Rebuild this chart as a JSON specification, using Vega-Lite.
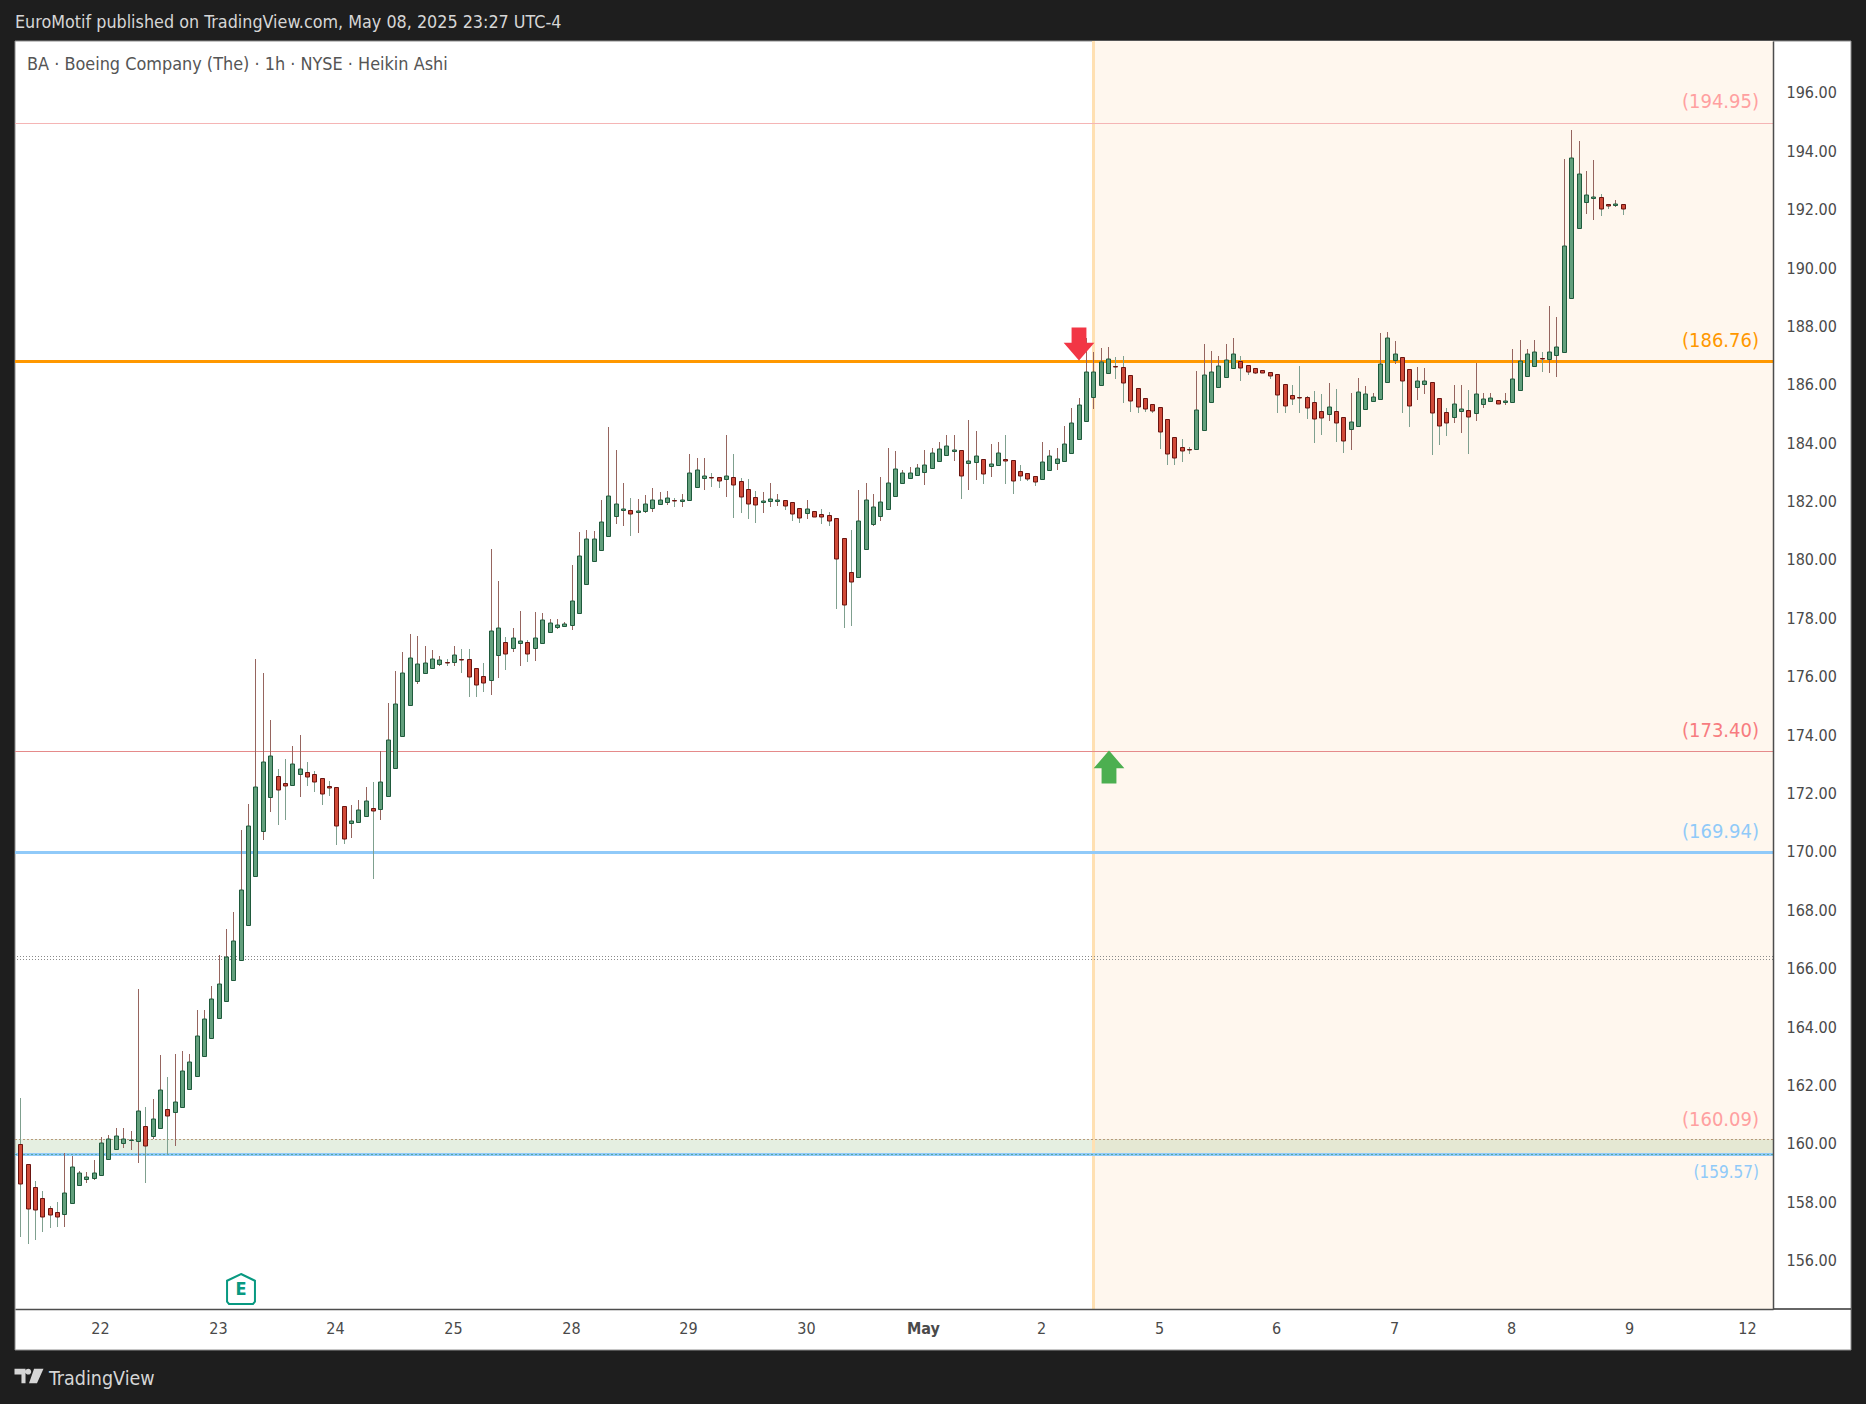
{
  "$schema": "https://vega.github.io/schema/vega-lite/v6.json",
  "width": 1758,
  "height": 1268,
  "autosize": {"type": "none"},
  "padding": {"left": 15, "top": 41, "right": 93, "bottom": 95},
  "background": "#1e1e1e",
  "view": {"fill": "#ffffff", "stroke": null},
  "title": {
    "text": "EuroMotif published on TradingView.com, May 08, 2025 23:27 UTC-4",
    "anchor": "start",
    "frame": "group",
    "font": "DejaVu Sans Condensed",
    "fontSize": 17.8,
    "fontWeight": "normal",
    "color": "#d6d6d6",
    "offset": 8
  },
  "config": {"text": {"font": "DejaVu Sans Condensed"}},
  "datasets": {
    "candles": [
      {"bar":0,"open":159.93,"high":161.52,"low":156.77,"close":158.56},
      {"bar":1,"open":159.24,"high":159.24,"low":156.53,"close":157.70},
      {"bar":2,"open":158.46,"high":158.67,"low":156.65,"close":157.67},
      {"bar":3,"open":158.08,"high":158.33,"low":156.94,"close":157.43},
      {"bar":4,"open":157.74,"high":157.82,"low":157.07,"close":157.50},
      {"bar":5,"open":157.60,"high":157.95,"low":157.11,"close":157.43},
      {"bar":6,"open":157.53,"high":159.63,"low":157.11,"close":158.25},
      {"bar":7,"open":157.91,"high":159.53,"low":157.91,"close":159.14},
      {"bar":8,"open":158.53,"high":159.02,"low":158.53,"close":158.94},
      {"bar":9,"open":158.73,"high":158.98,"low":158.62,"close":158.80},
      {"bar":10,"open":158.77,"high":159.39,"low":158.69,"close":158.94},
      {"bar":11,"open":158.87,"high":160.17,"low":158.87,"close":159.96},
      {"bar":12,"open":159.42,"high":160.25,"low":159.42,"close":160.10},
      {"bar":13,"open":159.76,"high":160.48,"low":159.76,"close":160.20},
      {"bar":14,"open":159.96,"high":160.48,"low":159.82,"close":160.10},
      {"bar":15,"open":160.06,"high":160.39,"low":159.75,"close":160.08},
      {"bar":16,"open":160.03,"high":165.25,"low":159.30,"close":161.06},
      {"bar":17,"open":160.55,"high":161.21,"low":158.62,"close":159.86},
      {"bar":18,"open":160.20,"high":161.48,"low":160.10,"close":160.79},
      {"bar":19,"open":160.48,"high":162.99,"low":160.48,"close":161.78},
      {"bar":20,"open":161.13,"high":162.24,"low":159.59,"close":160.89},
      {"bar":21,"open":161.03,"high":163.02,"low":159.88,"close":161.37},
      {"bar":22,"open":161.20,"high":163.13,"low":161.20,"close":162.43},
      {"bar":23,"open":161.81,"high":163.02,"low":161.81,"close":162.74},
      {"bar":24,"open":162.26,"high":164.53,"low":162.26,"close":163.63},
      {"bar":25,"open":162.94,"high":164.53,"low":162.94,"close":164.21},
      {"bar":26,"open":163.56,"high":165.35,"low":163.56,"close":164.90},
      {"bar":27,"open":164.25,"high":166.41,"low":164.25,"close":165.41},
      {"bar":28,"open":164.83,"high":167.31,"low":164.83,"close":166.35},
      {"bar":29,"open":165.57,"high":167.89,"low":165.57,"close":166.89},
      {"bar":30,"open":166.24,"high":170.70,"low":166.24,"close":168.63},
      {"bar":31,"open":167.43,"high":171.59,"low":167.43,"close":170.83},
      {"bar":32,"open":169.11,"high":176.56,"low":169.11,"close":172.16},
      {"bar":33,"open":170.66,"high":176.08,"low":170.37,"close":173.02},
      {"bar":34,"open":171.82,"high":174.47,"low":171.33,"close":173.22},
      {"bar":35,"open":172.54,"high":172.79,"low":170.88,"close":172.06},
      {"bar":36,"open":172.30,"high":173.13,"low":171.05,"close":172.20},
      {"bar":37,"open":172.23,"high":173.58,"low":172.23,"close":172.95},
      {"bar":38,"open":172.61,"high":173.96,"low":171.84,"close":172.78},
      {"bar":39,"open":172.68,"high":173.03,"low":172.22,"close":172.50},
      {"bar":40,"open":172.61,"high":172.72,"low":172.00,"close":172.33},
      {"bar":41,"open":172.47,"high":172.47,"low":171.57,"close":171.92},
      {"bar":42,"open":172.20,"high":172.38,"low":171.87,"close":172.13},
      {"bar":43,"open":172.16,"high":172.16,"low":170.20,"close":170.83},
      {"bar":44,"open":171.51,"high":171.51,"low":170.23,"close":170.38},
      {"bar":45,"open":170.93,"high":171.56,"low":170.43,"close":171.00},
      {"bar":46,"open":170.96,"high":171.73,"low":170.96,"close":171.37},
      {"bar":47,"open":171.17,"high":172.17,"low":171.17,"close":171.68},
      {"bar":48,"open":171.44,"high":172.33,"low":169.03,"close":171.34},
      {"bar":49,"open":171.41,"high":173.41,"low":171.04,"close":172.33},
      {"bar":50,"open":171.85,"high":175.05,"low":171.85,"close":173.77},
      {"bar":51,"open":172.81,"high":176.15,"low":172.81,"close":175.01},
      {"bar":52,"open":173.91,"high":176.80,"low":173.91,"close":176.07},
      {"bar":53,"open":174.97,"high":177.42,"low":174.97,"close":176.58},
      {"bar":54,"open":175.79,"high":177.35,"low":175.69,"close":176.38},
      {"bar":55,"open":176.07,"high":177.00,"low":176.03,"close":176.41},
      {"bar":56,"open":176.24,"high":176.87,"low":176.24,"close":176.55},
      {"bar":57,"open":176.38,"high":176.66,"low":176.30,"close":176.51},
      {"bar":58,"open":176.45,"high":176.56,"low":176.30,"close":176.43},
      {"bar":59,"open":176.45,"high":177.00,"low":176.33,"close":176.68},
      {"bar":60,"open":176.55,"high":176.90,"low":176.09,"close":176.51},
      {"bar":61,"open":176.55,"high":176.90,"low":175.27,"close":175.93},
      {"bar":62,"open":176.24,"high":176.24,"low":175.27,"close":175.66},
      {"bar":63,"open":175.97,"high":176.42,"low":175.44,"close":175.73},
      {"bar":64,"open":175.83,"high":180.33,"low":175.34,"close":177.51},
      {"bar":65,"open":176.68,"high":179.23,"low":175.89,"close":177.61},
      {"bar":66,"open":177.13,"high":177.30,"low":176.19,"close":176.72},
      {"bar":67,"open":176.92,"high":177.62,"low":176.78,"close":177.27},
      {"bar":68,"open":177.10,"high":178.20,"low":176.30,"close":177.16},
      {"bar":69,"open":177.13,"high":177.20,"low":176.47,"close":176.72},
      {"bar":70,"open":176.92,"high":178.17,"low":176.50,"close":177.27},
      {"bar":71,"open":177.10,"high":178.14,"low":177.10,"close":177.88},
      {"bar":72,"open":177.47,"high":177.93,"low":177.47,"close":177.78},
      {"bar":73,"open":177.64,"high":177.93,"low":177.58,"close":177.71},
      {"bar":74,"open":177.68,"high":177.83,"low":177.64,"close":177.75},
      {"bar":75,"open":177.71,"high":179.78,"low":177.54,"close":178.54},
      {"bar":76,"open":178.12,"high":180.91,"low":178.12,"close":180.08},
      {"bar":77,"open":179.12,"high":180.98,"low":179.12,"close":180.66},
      {"bar":78,"open":179.91,"high":180.94,"low":179.91,"close":180.66},
      {"bar":79,"open":180.28,"high":182.01,"low":180.28,"close":181.24},
      {"bar":80,"open":180.76,"high":184.51,"low":180.76,"close":182.13},
      {"bar":81,"open":181.45,"high":183.72,"low":181.18,"close":181.86},
      {"bar":82,"open":181.67,"high":182.59,"low":181.13,"close":181.69},
      {"bar":83,"open":181.65,"high":182.07,"low":180.78,"close":181.52},
      {"bar":84,"open":181.58,"high":182.04,"low":180.89,"close":181.62},
      {"bar":85,"open":181.62,"high":182.18,"low":181.57,"close":181.86},
      {"bar":86,"open":181.72,"high":182.42,"low":181.61,"close":182.00},
      {"bar":87,"open":181.86,"high":182.28,"low":181.86,"close":182.00},
      {"bar":88,"open":181.93,"high":182.31,"low":181.85,"close":182.06},
      {"bar":89,"open":182.01,"high":182.07,"low":181.78,"close":181.96},
      {"bar":90,"open":181.98,"high":182.21,"low":181.78,"close":182.01},
      {"bar":91,"open":182.00,"high":183.58,"low":182.00,"close":182.92},
      {"bar":92,"open":182.44,"high":183.45,"low":182.44,"close":183.02},
      {"bar":93,"open":182.75,"high":183.45,"low":182.36,"close":182.82},
      {"bar":94,"open":182.78,"high":182.93,"low":182.46,"close":182.77},
      {"bar":95,"open":182.78,"high":182.78,"low":182.43,"close":182.64},
      {"bar":96,"open":182.71,"high":184.23,"low":182.12,"close":182.82},
      {"bar":97,"open":182.78,"high":183.58,"low":181.40,"close":182.51},
      {"bar":98,"open":182.64,"high":182.75,"low":181.57,"close":182.10},
      {"bar":99,"open":182.37,"high":182.71,"low":181.37,"close":181.86},
      {"bar":100,"open":182.10,"high":182.31,"low":181.23,"close":181.82},
      {"bar":101,"open":181.95,"high":182.28,"low":181.57,"close":181.96},
      {"bar":102,"open":181.96,"high":182.59,"low":181.78,"close":182.03},
      {"bar":103,"open":181.98,"high":182.21,"low":181.81,"close":182.01},
      {"bar":104,"open":181.99,"high":181.99,"low":181.66,"close":181.81},
      {"bar":105,"open":181.92,"high":181.92,"low":181.30,"close":181.51},
      {"bar":106,"open":181.72,"high":181.72,"low":181.22,"close":181.38},
      {"bar":107,"open":181.55,"high":182.00,"low":181.36,"close":181.68},
      {"bar":108,"open":181.62,"high":181.62,"low":181.41,"close":181.41},
      {"bar":109,"open":181.51,"high":181.70,"low":181.18,"close":181.41},
      {"bar":110,"open":181.48,"high":181.59,"low":181.11,"close":181.27},
      {"bar":111,"open":181.38,"high":181.38,"low":178.27,"close":179.97},
      {"bar":112,"open":180.69,"high":180.69,"low":177.62,"close":178.40},
      {"bar":113,"open":179.53,"high":180.98,"low":177.69,"close":179.18},
      {"bar":114,"open":179.35,"high":182.35,"low":179.35,"close":181.27},
      {"bar":115,"open":180.31,"high":182.59,"low":180.31,"close":181.99},
      {"bar":116,"open":181.17,"high":182.21,"low":181.11,"close":181.75},
      {"bar":117,"open":181.44,"high":182.79,"low":181.30,"close":181.92},
      {"bar":118,"open":181.68,"high":183.79,"low":181.68,"close":182.57},
      {"bar":119,"open":182.13,"high":183.68,"low":182.13,"close":183.05},
      {"bar":120,"open":182.57,"high":183.03,"low":182.57,"close":182.92},
      {"bar":121,"open":182.75,"high":183.13,"low":182.75,"close":182.92},
      {"bar":122,"open":182.85,"high":183.24,"low":182.85,"close":183.09},
      {"bar":123,"open":182.95,"high":183.72,"low":182.53,"close":183.19},
      {"bar":124,"open":183.09,"high":183.79,"low":183.09,"close":183.60},
      {"bar":125,"open":183.33,"high":183.99,"low":183.33,"close":183.74},
      {"bar":126,"open":183.53,"high":184.23,"low":183.53,"close":183.84},
      {"bar":127,"open":183.69,"high":184.23,"low":183.35,"close":183.71},
      {"bar":128,"open":183.71,"high":183.71,"low":182.05,"close":182.81},
      {"bar":129,"open":183.26,"high":184.74,"low":182.36,"close":183.33},
      {"bar":130,"open":183.29,"high":184.37,"low":182.70,"close":183.50},
      {"bar":131,"open":183.40,"high":183.40,"low":182.56,"close":182.88},
      {"bar":132,"open":183.16,"high":183.92,"low":182.80,"close":183.23},
      {"bar":133,"open":183.19,"high":183.99,"low":183.19,"close":183.60},
      {"bar":134,"open":183.40,"high":184.23,"low":182.56,"close":183.33},
      {"bar":135,"open":183.36,"high":183.36,"low":182.22,"close":182.64},
      {"bar":136,"open":182.99,"high":183.20,"low":182.67,"close":182.81},
      {"bar":137,"open":182.92,"high":182.92,"low":182.67,"close":182.71},
      {"bar":138,"open":182.81,"high":182.81,"low":182.50,"close":182.61},
      {"bar":139,"open":182.71,"high":183.99,"low":182.71,"close":183.29},
      {"bar":140,"open":183.02,"high":183.71,"low":183.02,"close":183.50},
      {"bar":141,"open":183.26,"high":183.79,"low":183.04,"close":183.40},
      {"bar":142,"open":183.33,"high":184.54,"low":183.33,"close":183.91},
      {"bar":143,"open":183.60,"high":185.16,"low":183.60,"close":184.63},
      {"bar":144,"open":184.09,"high":185.49,"low":184.06,"close":185.25},
      {"bar":145,"open":184.70,"high":187.55,"low":184.70,"close":186.39},
      {"bar":146,"open":185.52,"high":187.07,"low":185.12,"close":186.39},
      {"bar":147,"open":185.93,"high":187.21,"low":185.93,"close":186.72},
      {"bar":148,"open":186.34,"high":187.24,"low":186.34,"close":186.82},
      {"bar":149,"open":186.58,"high":186.90,"low":186.15,"close":186.57},
      {"bar":150,"open":186.55,"high":186.94,"low":185.34,"close":186.00},
      {"bar":151,"open":186.27,"high":186.27,"low":185.03,"close":185.38},
      {"bar":152,"open":185.83,"high":185.83,"low":185.00,"close":185.18},
      {"bar":153,"open":185.49,"high":185.49,"low":185.03,"close":185.11},
      {"bar":154,"open":185.31,"high":185.31,"low":185.00,"close":185.04},
      {"bar":155,"open":185.18,"high":185.18,"low":183.76,"close":184.32},
      {"bar":156,"open":184.77,"high":184.77,"low":183.21,"close":183.57},
      {"bar":157,"open":184.15,"high":184.15,"low":183.21,"close":183.43},
      {"bar":158,"open":183.81,"high":184.09,"low":183.32,"close":183.67},
      {"bar":159,"open":183.74,"high":183.81,"low":183.59,"close":183.73},
      {"bar":160,"open":183.74,"high":186.42,"low":183.74,"close":185.08},
      {"bar":161,"open":184.39,"high":187.35,"low":184.39,"close":186.27},
      {"bar":162,"open":185.35,"high":187.11,"low":185.35,"close":186.38},
      {"bar":163,"open":185.86,"high":186.94,"low":185.86,"close":186.58},
      {"bar":164,"open":186.21,"high":187.35,"low":186.21,"close":186.79},
      {"bar":165,"open":186.51,"high":187.55,"low":186.51,"close":186.99},
      {"bar":166,"open":186.75,"high":186.94,"low":186.07,"close":186.51},
      {"bar":167,"open":186.62,"high":186.62,"low":186.27,"close":186.38},
      {"bar":168,"open":186.51,"high":186.51,"low":186.31,"close":186.34},
      {"bar":169,"open":186.45,"high":186.45,"low":186.34,"close":186.34},
      {"bar":170,"open":186.38,"high":186.38,"low":186.16,"close":186.24},
      {"bar":171,"open":186.31,"high":186.31,"low":185.00,"close":185.59},
      {"bar":172,"open":185.97,"high":185.97,"low":185.00,"close":185.21},
      {"bar":173,"open":185.59,"high":185.94,"low":185.27,"close":185.45},
      {"bar":174,"open":185.52,"high":186.59,"low":185.00,"close":185.51},
      {"bar":175,"open":185.52,"high":185.57,"low":184.79,"close":185.14},
      {"bar":176,"open":185.35,"high":185.74,"low":183.97,"close":184.77},
      {"bar":177,"open":185.04,"high":185.63,"low":184.24,"close":184.80},
      {"bar":178,"open":184.94,"high":186.01,"low":184.72,"close":185.18},
      {"bar":179,"open":185.04,"high":185.81,"low":184.00,"close":184.63},
      {"bar":180,"open":184.84,"high":184.84,"low":183.62,"close":184.01},
      {"bar":181,"open":184.42,"high":185.67,"low":183.73,"close":184.66},
      {"bar":182,"open":184.53,"high":186.18,"low":184.53,"close":185.69},
      {"bar":183,"open":185.11,"high":185.91,"low":185.11,"close":185.62},
      {"bar":184,"open":185.38,"high":185.67,"low":185.38,"close":185.52},
      {"bar":185,"open":185.45,"high":187.72,"low":185.45,"close":186.65},
      {"bar":186,"open":186.03,"high":187.76,"low":186.03,"close":187.54},
      {"bar":187,"open":186.79,"high":187.45,"low":186.66,"close":186.99},
      {"bar":188,"open":186.89,"high":186.89,"low":185.00,"close":186.07},
      {"bar":189,"open":186.48,"high":186.48,"low":184.52,"close":185.21},
      {"bar":190,"open":185.86,"high":186.56,"low":185.42,"close":186.07},
      {"bar":191,"open":185.97,"high":186.53,"low":185.65,"close":186.07},
      {"bar":192,"open":186.03,"high":186.03,"low":183.56,"close":184.97},
      {"bar":193,"open":185.49,"high":185.49,"low":183.90,"close":184.53},
      {"bar":194,"open":185.01,"high":185.14,"low":184.21,"close":184.63},
      {"bar":195,"open":184.84,"high":185.94,"low":184.65,"close":185.28},
      {"bar":196,"open":185.04,"high":185.94,"low":184.31,"close":185.11},
      {"bar":197,"open":185.08,"high":185.77,"low":183.59,"close":184.84},
      {"bar":198,"open":184.97,"high":186.70,"low":184.72,"close":185.62},
      {"bar":199,"open":185.28,"high":185.67,"low":185.17,"close":185.45},
      {"bar":200,"open":185.38,"high":185.67,"low":185.38,"close":185.49},
      {"bar":201,"open":185.42,"high":185.42,"low":185.28,"close":185.28},
      {"bar":202,"open":185.35,"high":185.66,"low":185.26,"close":185.38},
      {"bar":203,"open":185.37,"high":187.17,"low":185.37,"close":186.14},
      {"bar":204,"open":185.76,"high":187.48,"low":185.76,"close":186.75},
      {"bar":205,"open":186.24,"high":187.17,"low":186.24,"close":186.99},
      {"bar":206,"open":186.61,"high":187.48,"low":186.61,"close":187.09},
      {"bar":207,"open":186.87,"high":187.09,"low":186.40,"close":186.82},
      {"bar":208,"open":186.85,"high":188.65,"low":186.36,"close":187.09},
      {"bar":209,"open":186.96,"high":188.27,"low":186.23,"close":187.23},
      {"bar":210,"open":187.09,"high":193.68,"low":187.09,"close":190.69},
      {"bar":211,"open":188.91,"high":194.68,"low":188.91,"close":193.71},
      {"bar":212,"open":191.31,"high":194.30,"low":191.31,"close":193.19},
      {"bar":213,"open":192.23,"high":193.27,"low":191.81,"close":192.47},
      {"bar":214,"open":192.34,"high":193.65,"low":191.61,"close":192.40},
      {"bar":215,"open":192.37,"high":192.48,"low":191.74,"close":191.99},
      {"bar":216,"open":192.16,"high":192.16,"low":191.98,"close":192.06},
      {"bar":217,"open":192.12,"high":192.28,"low":192.05,"close":192.16},
      {"bar":218,"open":192.13,"high":192.13,"low":191.78,"close":191.99}
    ]
  },
  "encoding": {
    "x": {
      "field": "bar",
      "type": "quantitative",
      "scale": {"domain": [-0.72, 238.46], "nice": false, "zero": false, "round": true, "padding": 0},
      "axis": {
        "title": null,
        "orient": "bottom",
        "grid": false,
        "ticks": false,
        "zindex": 1,
        "domainColor": "#4d4d4d",
        "domainWidth": 1.5,
        "values": [11, 27, 43, 59, 75, 91, 107, 123, 139, 155, 171, 187, 203, 219, 235],
        "labelExpr": "['22','23','24','25','28','29','30','May','2','5','6','7','8','9','12'][round((datum.value-11)/16)]",
        "labelFont": "DejaVu Sans Condensed",
        "labelFontSize": 16,
        "labelFontWeight": {"expr": "datum.value == 123 ? 'bold' : 'normal'"},
        "labelColor": "#4a4a4a",
        "labelPadding": 11,
        "labelOffset": -1,
        "labelOverlap": false,
        "labelFlush": false,
        "labelBound": false
      }
    },
    "y": {
      "field": "price",
      "type": "quantitative",
      "scale": {"domain": [154.287, 197.73], "nice": false, "zero": false, "round": true},
      "axis": {
        "title": null,
        "orient": "right",
        "grid": false,
        "ticks": false,
        "zindex": 1,
        "domainColor": "#4d4d4d",
        "domainWidth": 1.5,
        "values": [156, 158, 160, 162, 164, 166, 168, 170, 172, 174, 176, 178, 180, 182, 184, 186, 188, 190, 192, 194, 196],
        "format": ".2f",
        "labelFont": "DejaVu Sans Condensed",
        "labelFontSize": 16,
        "labelColor": "#4a4a4a",
        "labelPadding": 13,
        "labelOffset": 1,
        "labelOverlap": false,
        "labelFlush": false,
        "labelBound": false
      }
    }
  },
  "layer": [
    {
      "data": {"values": [{"bar": -0.72, "bar2": 249.07, "price": 197.73, "price2": 152.88}]},
      "mark": {"type": "rect", "fill": "#ffffff", "stroke": "#8c8c8c", "strokeWidth": 1},
      "encoding": {"x2": {"field": "bar2"}, "y2": {"field": "price2"}}
    },
    {
      "data": {"values": [{"bar": 146, "bar2": 238.46, "price": 197.73, "price2": 154.287}]},
      "mark": {"type": "rect", "fill": "#fff7ee"},
      "encoding": {"x2": {"field": "bar2"}, "y2": {"field": "price2"}}
    },
    {
      "data": {"values": [{"bar": -0.72, "bar2": 238.46, "price": 160.10, "price2": 159.59}]},
      "mark": {"type": "rect", "fill": "#7cb068", "opacity": 0.2},
      "encoding": {"x2": {"field": "bar2"}, "y2": {"field": "price2"}}
    },
    {
      "data": {"values": [{"bar": 146}]},
      "mark": {"type": "rule", "color": "#ffe0b2", "strokeWidth": 3, "xOffset": 0.5},
      "encoding": {"y": null}
    },
    {
      "data": {"values": [{"price": 194.91}]},
      "mark": {"type": "rule", "color": "#f5b5b5", "strokeWidth": 1, "yOffset": 0.5},
      "encoding": {"x": null}
    },
    {
      "data": {"values": [{"price": 173.39}]},
      "mark": {"type": "rule", "color": "#e58a8a", "strokeWidth": 1, "yOffset": 0.5},
      "encoding": {"x": null}
    },
    {
      "data": {"values": [{"price": 186.76}]},
      "mark": {"type": "rule", "color": "#ff9800", "strokeWidth": 3, "yOffset": 0.5},
      "encoding": {"x": null}
    },
    {
      "data": {"values": [{"price": 169.93}, {"price": 159.59}]},
      "mark": {"type": "rule", "color": "#90caf9", "strokeWidth": 3, "yOffset": 0.5},
      "encoding": {"x": null}
    },
    {
      "data": {"values": [{"price": 159.59}]},
      "mark": {"type": "rule", "color": "#5aa8a0", "strokeWidth": 1, "strokeDash": [2, 2], "yOffset": 0.5},
      "encoding": {"x": null}
    },
    {
      "data": {"values": [{"price": 160.10}]},
      "mark": {"type": "rule", "color": "#b89a7c", "strokeWidth": 1, "strokeDash": [2, 2], "yOffset": 0.5},
      "encoding": {"x": null}
    },
    {
      "data": {"values": [{"price": 166.37}, {"price": 166.27}]},
      "mark": {"type": "rule", "color": "#8a8a8a", "strokeWidth": 1, "strokeDash": [1, 2], "yOffset": 0.5},
      "encoding": {"x": null}
    },
    {
      "data": {"values": [{"bar": 238.46, "bar2": 249.07, "price": 154.287}]},
      "mark": {"type": "rule", "color": "#333333", "strokeWidth": 1.5},
      "encoding": {"x2": {"field": "bar2"}}
    },
    {
      "data": {"name": "candles"},
      "mark": {"type": "rule", "strokeWidth": 1, "xOffset": 0.5},
      "encoding": {
        "y": {"field": "low", "type": "quantitative", "scale": {"domain": [154.287, 197.73], "nice": false, "zero": false, "round": true}, "axis": {"title": null, "orient": "right", "grid": false, "ticks": false, "zindex": 1, "domainColor": "#4d4d4d", "domainWidth": 1.5, "values": [156, 158, 160, 162, 164, 166, 168, 170, 172, 174, 176, 178, 180, 182, 184, 186, 188, 190, 192, 194, 196], "format": ".2f", "labelFont": "DejaVu Sans Condensed", "labelFontSize": 16, "labelColor": "#4a4a4a", "labelPadding": 13, "labelOffset": 1, "labelOverlap": false, "labelFlush": false, "labelBound": false}},
        "y2": {"field": "high"},
        "color": {"condition": {"test": "datum.close >= datum.open", "value": "#96655f"}, "value": "#7fa08f"}
      }
    },
    {
      "data": {"name": "candles"},
      "mark": {"type": "bar", "size": 4, "strokeWidth": 1, "xOffset": 0.5, "yOffset": 0.5},
      "encoding": {
        "y": {"field": "open", "type": "quantitative", "scale": {"domain": [154.287, 197.73], "nice": false, "zero": false, "round": true}, "axis": {"title": null, "orient": "right", "grid": false, "ticks": false, "zindex": 1, "domainColor": "#4d4d4d", "domainWidth": 1.5, "values": [156, 158, 160, 162, 164, 166, 168, 170, 172, 174, 176, 178, 180, 182, 184, 186, 188, 190, 192, 194, 196], "format": ".2f", "labelFont": "DejaVu Sans Condensed", "labelFontSize": 16, "labelColor": "#4a4a4a", "labelPadding": 13, "labelOffset": 1, "labelOverlap": false, "labelFlush": false, "labelBound": false}},
        "y2": {"field": "close"},
        "fill": {"condition": {"test": "datum.close >= datum.open", "value": "#629f7c"}, "value": "#d04a38"},
        "stroke": {"condition": {"test": "datum.close >= datum.open", "value": "#1f5a3c"}, "value": "#6b1410"}
      }
    },
    {
      "data": {"values": [{"bar": 144, "price": 187.34}]},
      "mark": {"type": "point", "shape": "M-0.45 -1 L0.45 -1 L0.45 -0.08 L0.93 -0.08 L0 1 L-0.93 -0.08 L-0.45 -0.08 Z", "size": 1089, "filled": true, "fill": "#f23645", "opacity": 1, "strokeWidth": 0}
    },
    {
      "data": {"values": [{"bar": 148.07, "price": 172.84}]},
      "mark": {"type": "point", "shape": "M-0.45 1 L0.45 1 L0.45 0.08 L0.93 0.08 L0 -1 L-0.93 0.08 L-0.45 0.08 Z", "size": 1089, "filled": true, "fill": "#4caf50", "opacity": 1, "strokeWidth": 0}
    },
    {
      "data": {"values": [{"bar": 30, "price": 154.97}]},
      "mark": {"type": "point", "shape": "M0 -1 L0.93 -0.55 L0.93 0.85 L0.8 1 L-0.8 1 L-0.93 0.85 L-0.93 -0.55 Z", "size": 900, "filled": false, "fill": "#ffffff", "stroke": "#089981", "strokeWidth": 2, "opacity": 1}
    },
    {
      "data": {"values": [{"bar": 30, "price": 154.93, "label": "E"}]},
      "mark": {"type": "text", "fontSize": 18, "fontWeight": "bold", "color": "#089981", "align": "center", "baseline": "middle"},
      "encoding": {"text": {"field": "label"}}
    },
    {
      "data": {"values": [{"bar": 1.25, "price": 152.0}]},
      "mark": {"type": "point", "shape": "M-1 -0.5 L-0.24 -0.5 L-0.24 0.5 L-0.52 0.5 L-0.52 -0.1 L-1 -0.1 Z M-0.05 -0.5 A0.2 0.2 0 1 1 -0.05 -0.1 A0.2 0.2 0 1 1 -0.05 -0.5 Z M0.35 -0.5 L1 -0.5 L0.55 0.5 L0 0.5 Z", "size": 841, "filled": true, "fill": "#d6d6d6", "opacity": 1, "strokeWidth": 0}
    },
    {
      "data": {"values": [{"bar": 3.9, "price": 151.88, "label": "TradingView"}]},
      "mark": {"type": "text", "fontSize": 19.5, "color": "#d6d6d6", "align": "left", "baseline": "middle"},
      "encoding": {"text": {"field": "label"}}
    },
    {
      "data": {"values": [{"bar": 0.91, "price": 196.92, "label": "BA · Boeing Company (The) · 1h · NYSE · Heikin Ashi"}]},
      "mark": {"type": "text", "fontSize": 17.9, "color": "#555555", "align": "left", "baseline": "middle"},
      "encoding": {"text": {"field": "label"}}
    },
    {
      "data": {"values": [
        {"bar": 236.6, "price": 194.95, "label": "(194.95)"},
        {"bar": 236.6, "price": 186.76, "label": "(186.76)"},
        {"bar": 236.6, "price": 173.40, "label": "(173.40)"},
        {"bar": 236.6, "price": 169.94, "label": "(169.94)"},
        {"bar": 236.6, "price": 160.09, "label": "(160.09)"}
      ]},
      "mark": {"type": "text", "fontSize": 20, "align": "right", "baseline": "middle", "dy": -20},
      "encoding": {
        "text": {"field": "label"},
        "color": {
          "field": "label",
          "scale": {
            "domain": ["(194.95)", "(186.76)", "(173.40)", "(169.94)", "(160.09)"],
            "range": ["#ffa0a0", "#ff9800", "#f77c80", "#90caf9", "#ffa0a0"]
          },
          "legend": null
        }
      }
    },
    {
      "data": {"values": [{"bar": 236.6, "price": 159.57, "label": "(159.57)"}]},
      "mark": {"type": "text", "fontSize": 17, "color": "#90caf9", "align": "right", "baseline": "middle", "dy": 18},
      "encoding": {"text": {"field": "label"}}
    }
  ]
}
